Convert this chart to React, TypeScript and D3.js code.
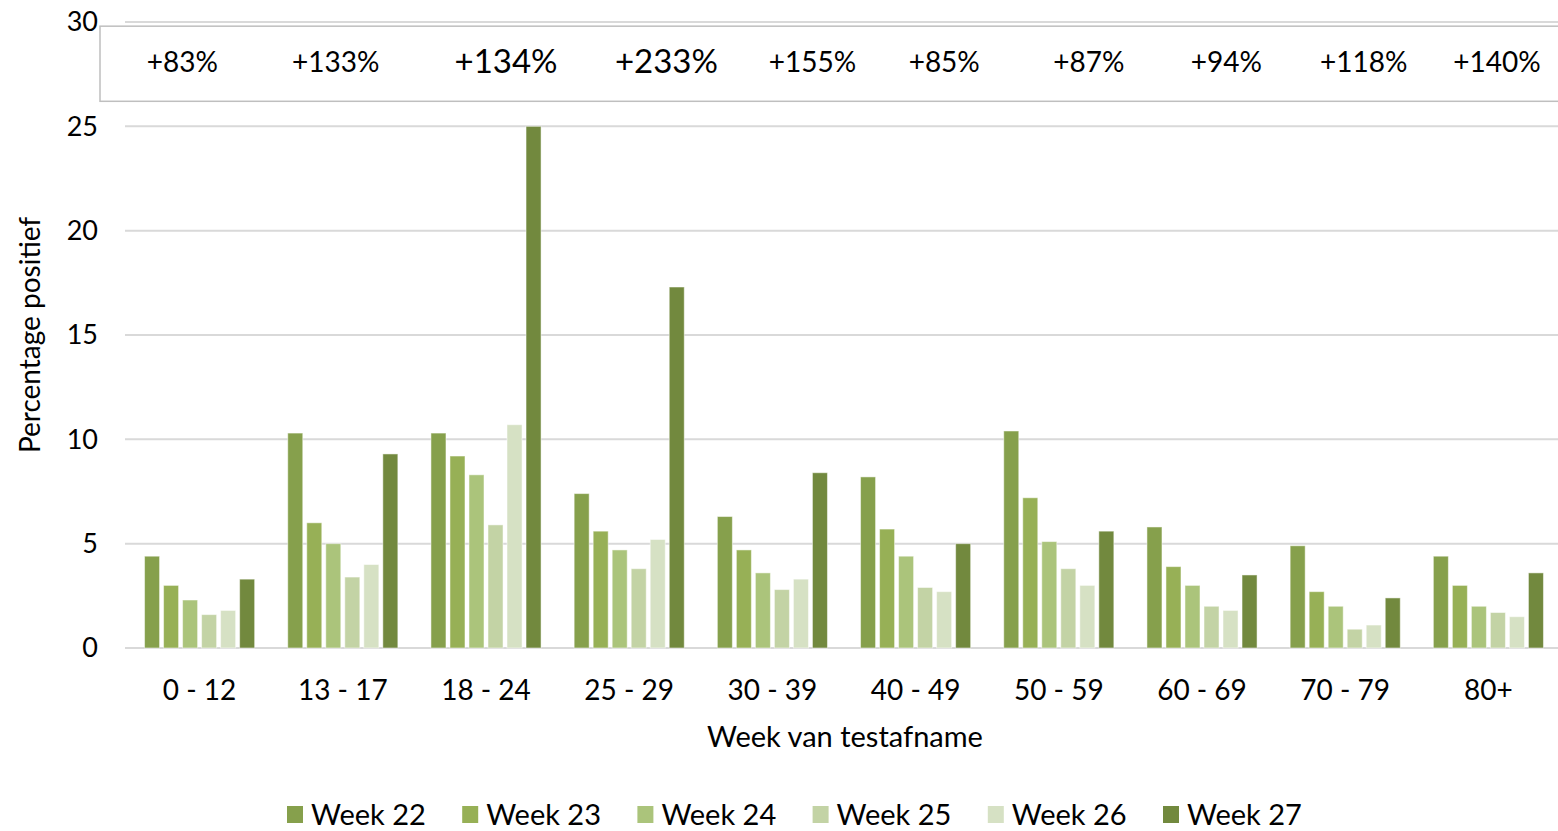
import * as d3 from 'd3';

const AGE_GROUPS = ["0 - 12", "13 - 17", "18 - 24", "25 - 29", "30 - 39", "40 - 49", "50 - 59", "60 - 69", "70 - 79", "80+"];
const WEEKS = ["Week 22", "Week 23", "Week 24", "Week 25", "Week 26", "Week 27"];
const WEEK_COLORS = ["#86a04c", "#97b056", "#abc47b", "#c3d3a5", "#d6e1c4", "#72893e"];

// percentage positive per week, one array per age group
const WEEK22 = [4.4, 10.3, 10.3, 7.4, 6.3, 8.2, 10.4, 5.8, 4.9, 4.4];
const WEEK23 = [3.0, 6.0, 9.2, 5.6, 4.7, 5.7, 7.2, 3.9, 2.7, 3.0];
const WEEK24 = [2.3, 5.0, 8.3, 4.7, 3.6, 4.4, 5.1, 3.0, 2.0, 2.0];
const WEEK25 = [1.6, 3.4, 5.9, 3.8, 2.8, 2.9, 3.8, 2.0, 0.9, 1.7];
const WEEK26 = [1.8, 4.0, 10.7, 5.2, 3.3, 2.7, 3.0, 1.8, 1.1, 1.5];
const WEEK27 = [3.3, 9.3, 25.0, 17.3, 8.4, 5.0, 5.6, 3.5, 2.4, 3.6];
const SERIES = [WEEK22, WEEK23, WEEK24, WEEK25, WEEK26, WEEK27];

const Y_TICKS = [0, 5, 10, 15, 20, 25, 30];

// growth annotations in the box at the top; position in category units
const GROWTH_LABELS = ["+83%", "+133%", "+134%", "+233%", "+155%", "+85%", "+87%", "+94%", "+118%", "+140%"];
const GROWTH_POS = [-0.12, 0.95, 2.14, 3.26, 4.28, 5.2, 6.21, 7.17, 8.13, 9.06];
const GROWTH_BIG = [false, false, true, true, false, false, false, false, false, false];

const W = 1558, H = 831;
const FONT = "Lato, 'Open Sans', sans-serif";

export default function App() {
  const left = 128, right = 1560, top = 22, bottom = 648;

  const x = d3.scaleBand().domain(AGE_GROUPS).range([left, right]).padding(0);
  const xi = d3.scaleBand().domain(WEEKS).range([0, x.bandwidth()])
    .paddingInner(0.21).paddingOuter(0.87);
  const y = d3.scaleLinear().domain([0, 30]).range([bottom, top]);
  const annX = d3.scaleLinear().domain([0, 1]).range([x(AGE_GROUPS[0])! + x.bandwidth() / 2, x(AGE_GROUPS[1])! + x.bandwidth() / 2]);

  const boxTop = y(29.8), boxBot = y(26.2);

  return (
    <svg width={W} height={H} style={{ position: 'absolute', left: 0, top: 0, fontFamily: FONT }}>
      <rect width={W} height={H} fill="#fff" />

      {/* gridlines */}
      {Y_TICKS.map(t => (
        <line key={t} x1={left - 3} x2={right} y1={y(t)} y2={y(t)} stroke="#d9d9d9" strokeWidth={2} />
      ))}

      {/* y tick labels */}
      {Y_TICKS.map(t => (
        <text key={t} x={98} y={y(t)} dy="0.35em" textAnchor="end" fontSize={27} fill="#000">{t}</text>
      ))}

      {/* annotation box */}
      <rect x={100} y={boxTop} width={W - 100 + 5} height={boxBot - boxTop} fill="#fff" stroke="#bfbfbf" strokeWidth={1.5} />
      {GROWTH_LABELS.map((l, i) => (
        <text key={l + i} x={annX(GROWTH_POS[i])} y={(boxTop + boxBot) / 2 - 2} dy="0.35em" textAnchor="middle"
          fontSize={GROWTH_BIG[i] ? 33 : 28} fill="#000">{l}</text>
      ))}

      {/* bars */}
      {AGE_GROUPS.map((g, gi) => (
        <g key={g} transform={`translate(${x(g)},0)`}>
          {SERIES.map((s, si) => (
            <rect key={si} x={xi(WEEKS[si])} y={y(s[gi])} width={xi.bandwidth()} height={y(0) - y(s[gi])}
              fill={WEEK_COLORS[si]} stroke="#fff" strokeOpacity={0.5} strokeWidth={1} />
          ))}
        </g>
      ))}

      {/* x tick labels */}
      {AGE_GROUPS.map(g => (
        <text key={g} x={x(g)! + x.bandwidth() / 2} y={690} dy="0.35em" textAnchor="middle" fontSize={28} fill="#000">{g}</text>
      ))}

      <text x={845} y={737} dy="0.35em" textAnchor="middle" fontSize={29} fill="#000">Week van testafname</text>
      <text transform={`translate(30,335) rotate(-90)`} dy="0.35em" textAnchor="middle" fontSize={28} fill="#000">Percentage positief</text>

      {/* legend */}
      {WEEKS.map((w, i) => (
        <g key={w} transform={`translate(${287 + i * 175.2},814)`}>
          <rect x={0} y={-8} width={16} height={17} fill={WEEK_COLORS[i]} />
          <text x={24} y={1} dy="0.35em" fontSize={29} fill="#000">{w}</text>
        </g>
      ))}
    </svg>
  );
}
